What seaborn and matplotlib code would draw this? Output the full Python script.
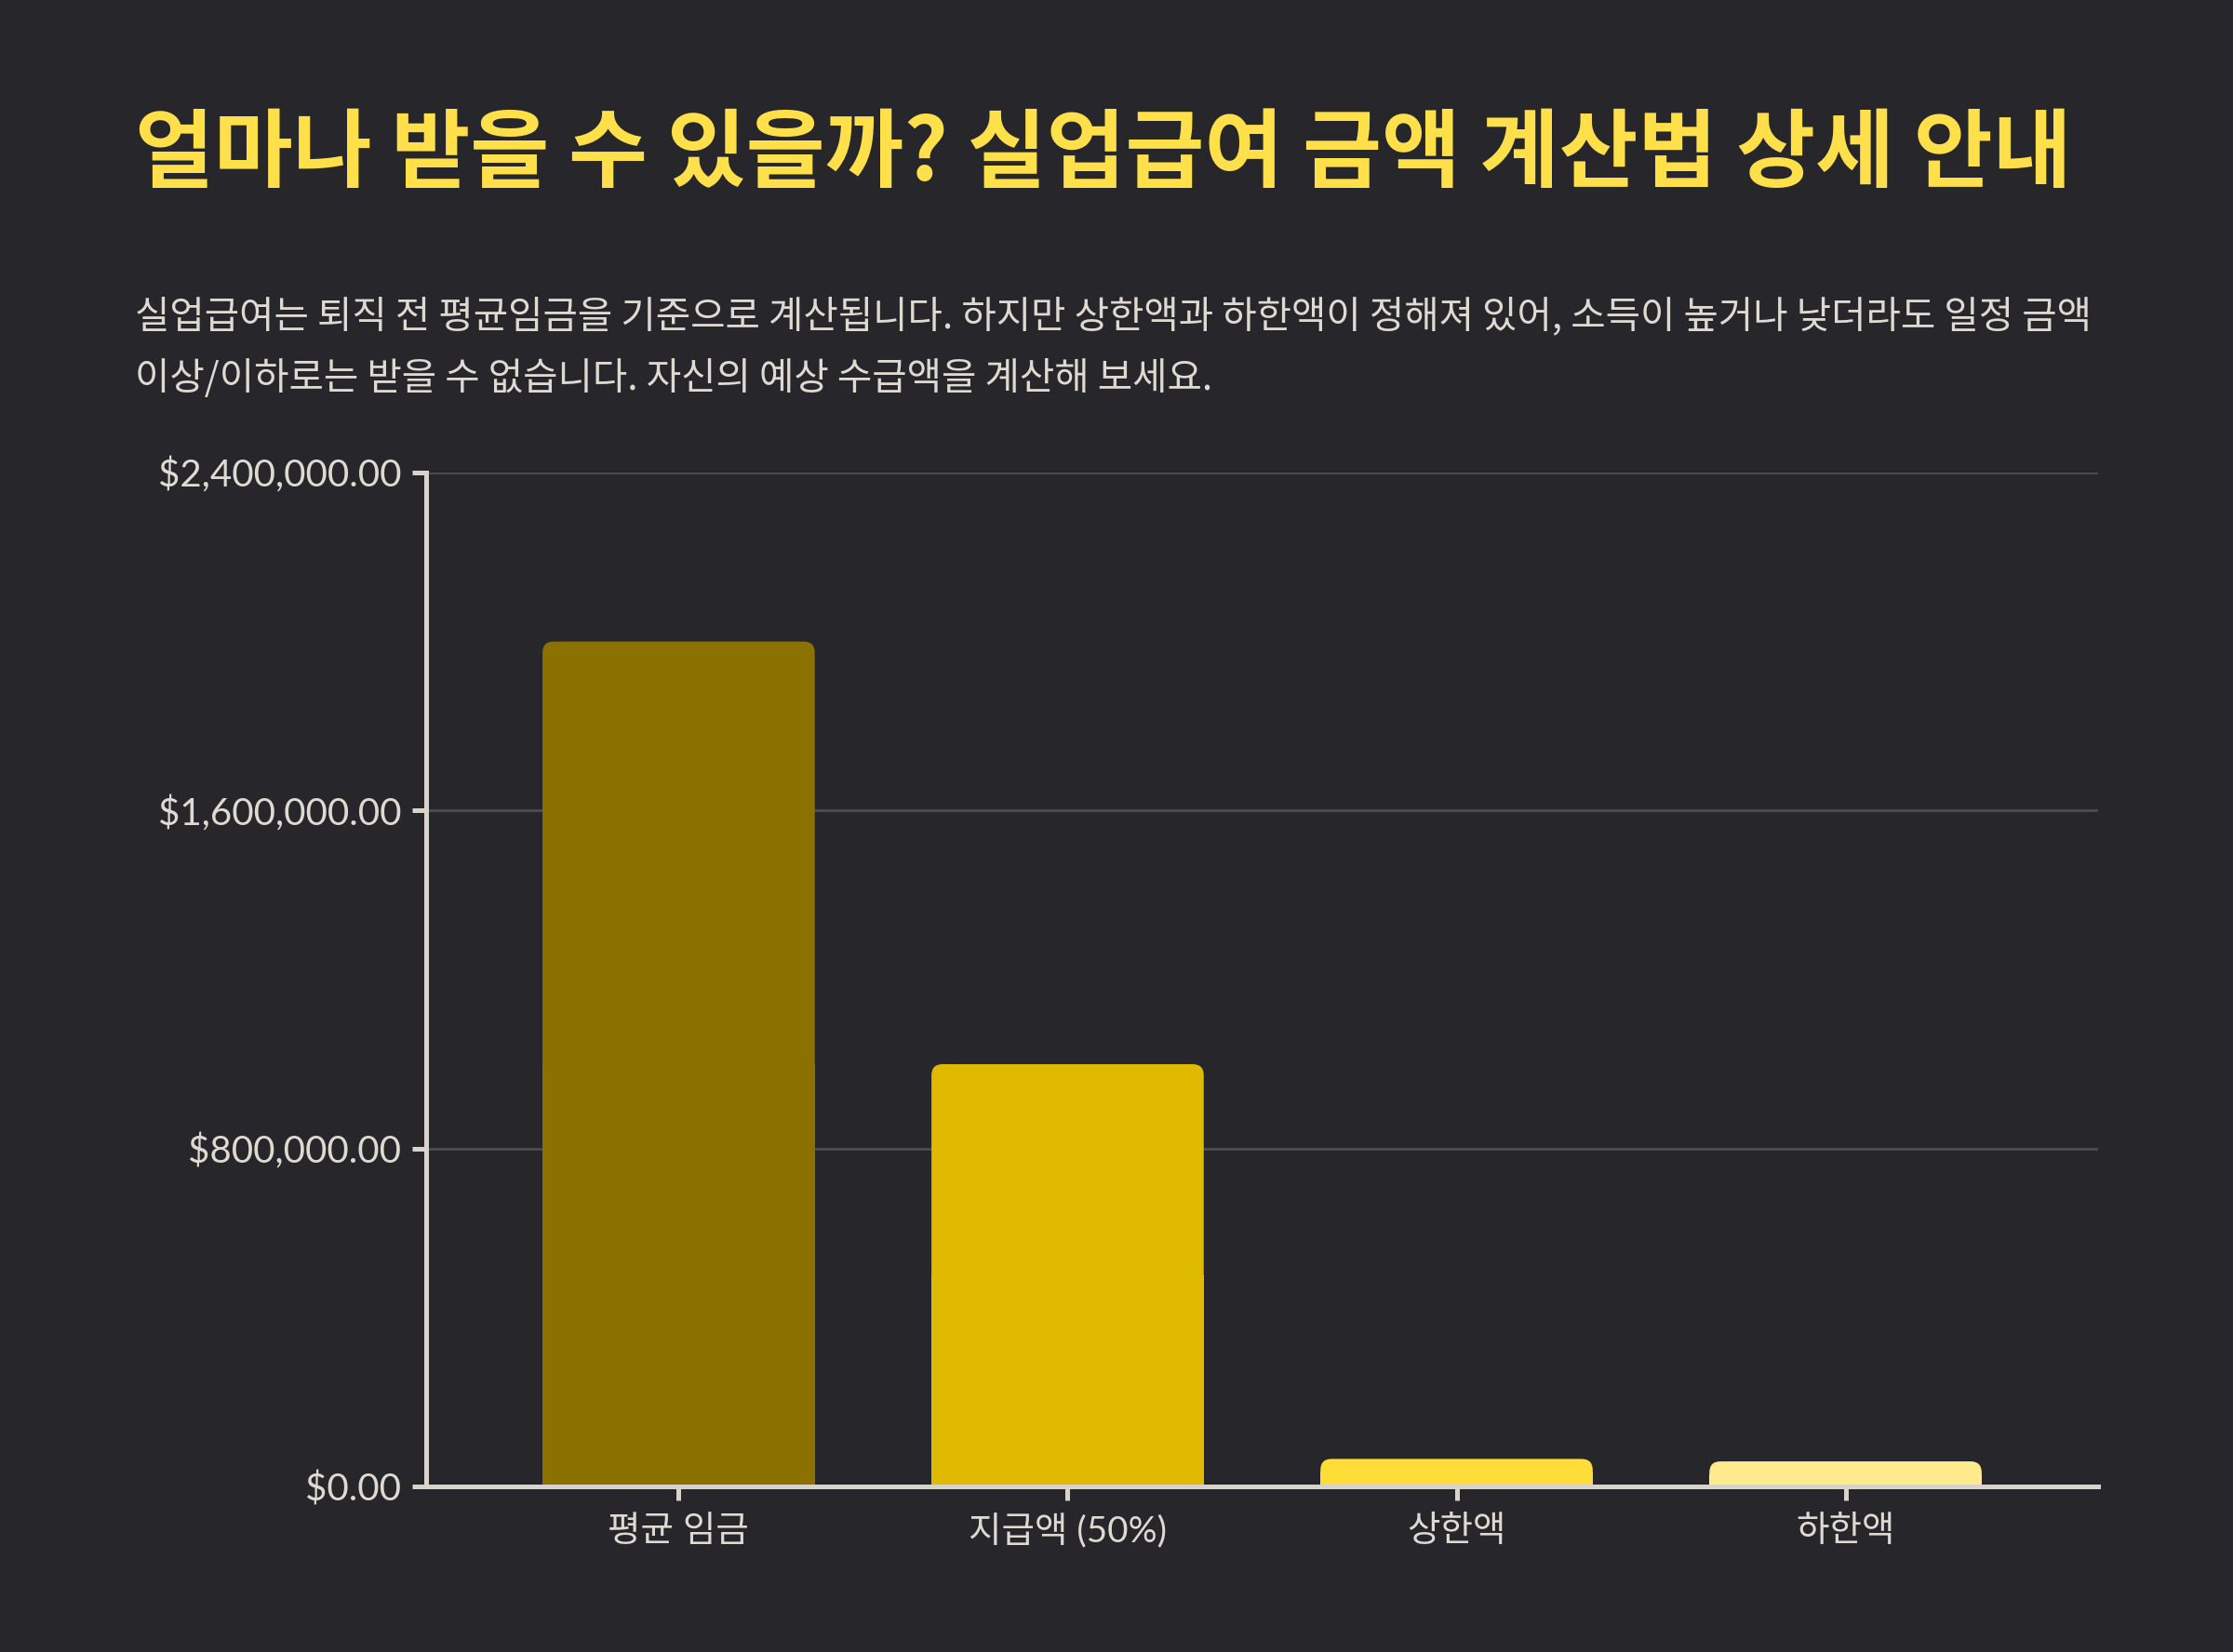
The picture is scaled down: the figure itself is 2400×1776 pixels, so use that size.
import matplotlib
matplotlib.use("Agg")
import matplotlib.pyplot as plt
from matplotlib.patches import FancyBboxPatch, Rectangle
from matplotlib.ticker import FuncFormatter
import seaborn as sns
import pandas as pd

# ---- data ----
categories = ["평균 임금", "지급액 (50%)", "상한액", "하한액"]
values = [2000000, 1000000, 66000, 60120]
bar_colors = ["#8A7100", "#E0BA00", "#FFDD38", "#FFEB8C"]
y_ticks = [0, 800000, 1600000, 2400000]

title = "얼마나 받을 수 있을까? 실업급여 금액 계산법 상세 안내"
subtitle_lines = [
    "실업급여는 퇴직 전 평균임금을 기준으로 계산됩니다. 하지만 상한액과 하한액이 정해져 있어, 소득이 높거나 낮더라도 일정 금액",
    "이상/이하로는 받을 수 없습니다. 자신의 예상 수급액을 계산해 보세요.",
]

BG = "#26262B"
TXT = "#DEDAD2"
AXC = "#D8D4CC"
GRID = "#4A4A4F"
TITLE_C = "#FFE04A"

sns.set_theme(style="dark")
plt.rcParams["font.family"] = ["Noto Sans CJK KR", "DejaVu Sans"]

df = pd.DataFrame({"category": categories, "value": values})

fig = plt.figure(figsize=(12, 8.88), dpi=200, facecolor=BG)
ax = fig.add_axes([0.1907, 0.100, 0.749, 0.614])
ax.set_facecolor(BG)

sns.barplot(data=df, x="category", y="value", hue="category",
            palette=bar_colors, width=0.70, legend=False, ax=ax,
            saturation=1)

ax.set_xlim(-0.65, 3.65)
ax.set_ylim(0, 2400000)
fig.canvas.draw()

# rounded-top bars
bbox = ax.get_window_extent()
x_per_px = (3.65 + 0.65) / bbox.width
y_per_px = 2400000 / bbox.height
aspect = y_per_px / x_per_px
r_px = 12
r_x = r_px * x_per_px

for p, c in zip(list(ax.patches), bar_colors):
    x0, y0, w, h = p.get_x(), p.get_y(), p.get_width(), p.get_height()
    p.set_visible(False)
    fb = FancyBboxPatch((x0, y0), w, h,
                        boxstyle=f"round,pad=0,rounding_size={r_x}",
                        mutation_aspect=aspect, facecolor=c, edgecolor="none",
                        zorder=2)
    ax.add_patch(fb)
    ax.add_patch(Rectangle((x0, y0), w, h / 2, facecolor=c, edgecolor="none", zorder=2))

# grid
ax.set_yticks(y_ticks)
ax.yaxis.grid(True, color=GRID, linewidth=1.1, zorder=0)
ax.xaxis.grid(False)
ax.set_axisbelow(True)

ax.yaxis.set_major_formatter(FuncFormatter(lambda v, pos: f"${v:,.2f}"))

for s in ["top", "right"]:
    ax.spines[s].set_visible(False)
for s in ["left", "bottom"]:
    ax.spines[s].set_visible(True)
    ax.spines[s].set_color(AXC)
    ax.spines[s].set_linewidth(1.8)
    ax.spines[s].set_zorder(3)

ax.tick_params(axis="both", which="major", length=5.5, width=1.8, color=AXC,
               direction="out", colors=TXT, bottom=True, left=True)
ax.tick_params(axis="y", pad=4, labelsize=14.5)
ax.tick_params(axis="x", pad=5, labelsize=13.9)
for lab in ax.get_yticklabels():
    lab.set_family(["Lato", "Noto Sans CJK KR"])
    lab.set_color(TXT)
for lab in ax.get_xticklabels():
    lab.set_family(["Lato", "Noto Sans CJK KR"])
    lab.set_color(TXT)

ax.set_xlabel("")
ax.set_ylabel("")

# title and subtitle
x0_txt = 95 / 1568
fig.text(x0_txt, 0.906, title, color=TITLE_C, fontsize=33.2, fontweight="bold",
         ha="left", va="center", family=["Noto Sans CJK KR", "DejaVu Sans"])
fig.text(x0_txt, 0.8085, subtitle_lines[0], color=TXT, fontsize=14.65,
         ha="left", va="center", family=["Noto Sans CJK KR", "DejaVu Sans"])
fig.text(x0_txt, 0.771, subtitle_lines[1], color=TXT, fontsize=14.65,
         ha="left", va="center", family=["Noto Sans CJK KR", "DejaVu Sans"])

fig.savefig("out.png", dpi=200, facecolor=BG)
